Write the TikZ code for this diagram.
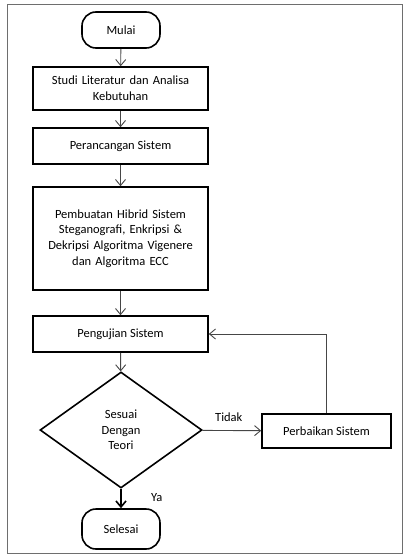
\documentclass[tikz,border=0pt]{standalone}
\usepackage{fontspec}
\setmainfont{Carlito}
\usepackage{tikz}
\usetikzlibrary{shapes.geometric, arrows.meta}
\definecolor{garis}{RGB}{70, 70, 70}
\definecolor{bingkai}{RGB}{110, 110, 110}

\begin{document}
\begin{tikzpicture}[x=1pt, y=-1pt,
    every node/.style={font=\fontsize{12.5}{15.6}\selectfont},
    proses/.style={draw, line width=1.6, inner sep=0, minimum width=175, align=center},
    terminal/.style={draw, line width=1.6, rounded corners=14, inner sep=0, minimum width=78},
    keputusan/.style={draw, diamond, line width=1.6, inner sep=0, minimum width=162, minimum height=116, align=center},
    panah/.style={draw=garis, line width=0.9, -{Straight Barb[length=6pt, width=10pt]}}]

  \useasboundingbox (0, 0) rectangle (404, 556);
  \draw[bingkai, line width=1] (7, 5) rectangle (402, 553);

  \node[terminal, minimum height=36] (mulai) at (121, 30) {Mulai};
  \node[proses, minimum height=43, text width=160] (studi) at (120.5, 88.5) {Studi Literatur dan Analisa\\Kebutuhan};
  \node[proses, minimum height=36] (rancang) at (120.5, 146) {Perancangan Sistem};
  \node[proses, minimum height=103, text width=160] (buat) at (120.5, 238.5)
    {Pembuatan Hibrid Sistem\\Steganografi, Enkripsi \&\\Dekripsi Algoritma Vigenere\\dan Algoritma ECC};
  \node[proses, minimum height=36] (uji) at (120.5, 334) {Pengujian Sistem};
  \node[keputusan] (sesuai) at (121, 430) {Sesuai\\Dengan\\Teori};
  \node[proses, minimum width=129, minimum height=34] (perbaikan) at (326.5, 431) {Perbaikan Sistem};
  \node[terminal, minimum height=40] (selesai) at (121, 529) {Selesai};

  \draw[panah] (mulai) -- (studi);
  \draw[panah] (studi) -- (rancang);
  \draw[panah] (rancang) -- (buat);
  \draw[panah] (buat) -- (uji);
  \draw[panah] (uji) -- (sesuai);
  \draw[panah] (sesuai) -- (perbaikan) node[pos=0.45, above=5] {Tidak};
  \draw[panah] (perbaikan.north) |- (uji.east);
  \draw[panah, draw=black, line width=1.6] (sesuai) -- (selesai) node[pos=0.45, right=26] {Ya};

\end{tikzpicture}
\end{document}
